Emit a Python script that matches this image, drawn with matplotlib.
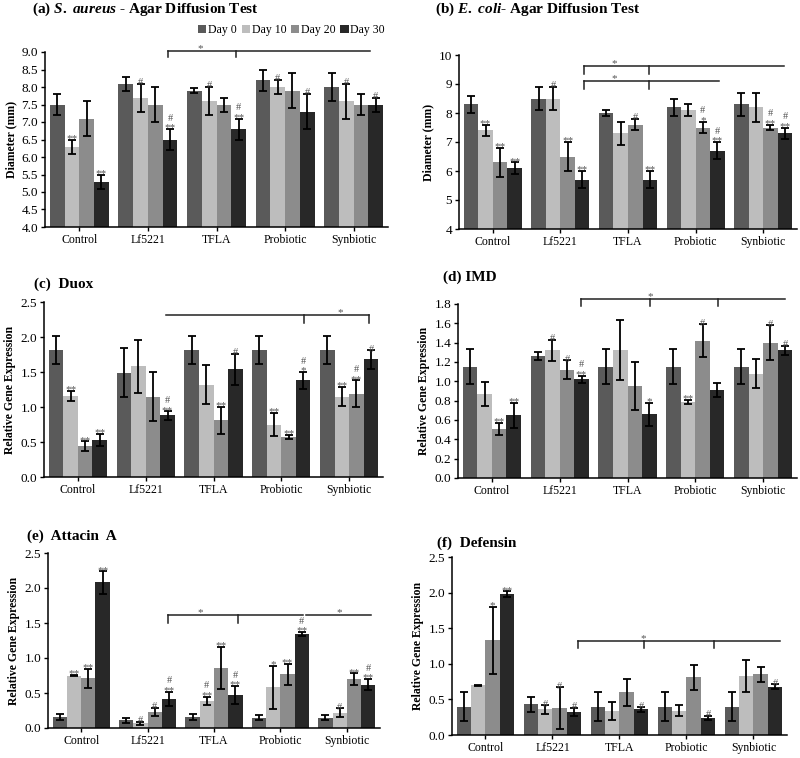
import matplotlib
matplotlib.use("Agg")
import matplotlib.pyplot as plt
from matplotlib.patches import Patch
import numpy as np

plt.rcParams['font.family'] = ['Liberation Serif', 'DejaVu Serif']
plt.rcParams['mathtext.fontset'] = 'custom'
plt.rcParams['mathtext.it'] = 'Liberation Serif:italic:bold'
plt.rcParams['mathtext.rm'] = 'Liberation Serif:bold'

groups = ["Control", "Lf5221", "TFLA", "Probiotic", "Synbiotic"]
days = ["Day 0", "Day 10", "Day 20", "Day 30"]
colors = ["#5a5a5a", "#bdbdbd", "#8c8c8c", "#282828"]

# (a) S. aureus diameter, rows = groups, cols = days
a_val = [[7.5, 6.3, 7.1, 5.3], [8.1, 7.7, 7.5, 6.5], [7.9, 7.6, 7.5, 6.8],
         [8.2, 8.0, 7.9, 7.3], [8.0, 7.6, 7.5, 7.5]]
a_err = [[0.3, 0.2, 0.5, 0.2], [0.2, 0.4, 0.5, 0.3], [0.08, 0.4, 0.2, 0.3],
         [0.3, 0.2, 0.5, 0.5], [0.4, 0.5, 0.3, 0.2]]
a_sig = [["", "**", "", "**"], ["", "#", "", "#\n**"], ["", "#", "", "#\n**"],
         ["", "#", "", "#"], ["", "#", "", "#"]]

# (b) E. coli diameter
b_val = [[8.3, 7.4, 6.3, 6.1], [8.5, 8.5, 6.5, 5.7], [8.0, 7.3, 7.6, 5.7],
         [8.2, 8.1, 7.5, 6.7], [8.3, 8.2, 7.5, 7.3]]
b_err = [[0.3, 0.2, 0.5, 0.2], [0.4, 0.4, 0.5, 0.3], [0.1, 0.4, 0.2, 0.3],
         [0.3, 0.2, 0.2, 0.3], [0.4, 0.5, 0.1, 0.2]]
b_sig = [["", "**", "**", "**"], ["", "#", "**", "**"], ["", "", "#", "**"],
         ["", "", "#\n*", "#\n**"], ["", "", "#\n**", "#\n**"]]

# (c) Duox
c_val = [[1.82, 1.16, 0.44, 0.53], [1.49, 1.58, 1.15, 0.88], [1.82, 1.32, 0.81, 1.54],
         [1.82, 0.75, 0.57, 1.38], [1.82, 1.15, 1.19, 1.68]]
c_err = [[0.2, 0.07, 0.07, 0.09], [0.35, 0.38, 0.35, 0.06], [0.2, 0.28, 0.19, 0.22],
         [0.2, 0.17, 0.03, 0.12], [0.2, 0.14, 0.19, 0.13]]
c_sig = [["", "**", "**", "**"], ["", "", "", "#\n**"], ["", "", "**", "#"],
         ["", "**", "**", "#\n*"], ["", "**", "#\n**", "#"]]

# (d) IMD
d_val = [[1.15, 0.87, 0.51, 0.65], [1.26, 1.32, 1.12, 1.02], [1.15, 1.32, 0.95, 0.66],
         [1.15, 0.79, 1.42, 0.91], [1.15, 1.08, 1.40, 1.32]]
d_err = [[0.18, 0.12, 0.06, 0.13], [0.04, 0.11, 0.10, 0.04], [0.18, 0.31, 0.25, 0.12],
         [0.18, 0.02, 0.17, 0.07], [0.18, 0.15, 0.18, 0.05]]
d_sig = [["", "", "**", "**"], ["", "#", "#", "#\n**"], ["", "", "", "*"],
         ["", "**", "#", ""], ["", "", "#", "#"]]

# (e) Attacin A
e_val = [[0.16, 0.75, 0.71, 2.08], [0.11, 0.07, 0.23, 0.42], [0.16, 0.39, 0.86, 0.47],
         [0.15, 0.58, 0.77, 1.34], [0.15, 0.22, 0.70, 0.62]]
e_err = [[0.04, 0.01, 0.14, 0.16], [0.04, 0.02, 0.06, 0.10], [0.04, 0.06, 0.30, 0.13],
         [0.04, 0.31, 0.15, 0.03], [0.04, 0.06, 0.08, 0.08]]
e_sig = [["", "**", "**", "**"], ["", "#", "#", "#\n**"], ["", "#\n**", "**", "#\n**"],
         ["", "*", "**", "#\n**"], ["", "#", "**", "#\n**"]]

# (f) Defensin
f_val = [[0.40, 0.70, 1.33, 1.98], [0.43, 0.36, 0.38, 0.32], [0.40, 0.34, 0.60, 0.36],
         [0.40, 0.34, 0.81, 0.24], [0.40, 0.83, 0.85, 0.68]]
f_err = [[0.21, 0.005, 0.47, 0.04], [0.11, 0.06, 0.29, 0.06], [0.21, 0.13, 0.19, 0.03],
         [0.21, 0.08, 0.18, 0.03], [0.21, 0.22, 0.10, 0.03]]
f_sig = [["", "", "*", "**"], ["", "#", "#", "#"], ["", "", "", "#"],
         ["", "", "", "#"], ["", "", "", "#"]]

W, H = 800, 758
fig = plt.figure(figsize=(8.0, 7.58), dpi=100)

def make_ax(l, r, t, b):
    return fig.add_axes([l / W, 1 - b / H, (r - l) / W, (b - t) / H])

panels = [
    dict(box=(45, 388, 52, 227), val=a_val, err=a_err, sig=a_sig, ylim=(4, 9),
         ticks=np.arange(4, 9.01, 0.5), fmt="{:.1f}", ylabel="Diameter (mm)",
         title=r"(a) $S.\ aureus$ - Agar Diffusion Test", tpos=(32, 9),
         brackets=[dict(y=9.03, x0=1.29, x1=4.24, ticks=[1.29, 2.28], d=0.17, stars=[1.77])]),
    dict(box=(459, 797, 55, 229), val=b_val, err=b_err, sig=b_sig, ylim=(4, 10),
         ticks=np.arange(4, 10.01, 1), fmt="{:.0f}", ylabel="Diameter (mm)",
         title=r"(b) $E.\ coli$- Agar Diffusion Test", tpos=(435, 9),
         brackets=[dict(y=9.63, x0=1.35, x1=4.31, ticks=[1.35, 2.31], d=0.28, stars=[1.79]),
                   dict(y=9.10, x0=1.35, x1=3.35, ticks=[1.35, 2.31], d=0.28, stars=[1.79])]),
    dict(box=(44, 383, 302, 477), val=c_val, err=c_err, sig=c_sig, ylim=(0, 2.5),
         ticks=np.arange(0, 2.51, 0.5), fmt="{:.1f}", ylabel="Relative Gene Expression",
         title="(c)  Duox", tpos=(34, 284),
         brackets=[dict(y=2.31, x0=1.30, x1=4.30, ticks=[3.33, 4.30], d=0.11, stars=[3.87])]),
    dict(box=(458, 797, 304, 478), val=d_val, err=d_err, sig=d_sig, ylim=(0, 1.8),
         ticks=np.arange(0, 1.81, 0.2), fmt="{:.1f}", ylabel="Relative Gene Expression",
         title="(d) IMD", tpos=(443, 277),
         brackets=[dict(y=1.855, x0=1.31, x1=4.33, ticks=[1.31, 2.33, 3.33], d=0.08, stars=[2.33])]),
    dict(box=(48, 380, 553, 728), val=e_val, err=e_err, sig=e_sig, ylim=(0, 2.5),
         ticks=np.arange(0, 2.51, 0.5), fmt="{:.1f}", ylabel="Relative Gene Expression",
         title="(e)  Attacin  A", tpos=(27, 536),
         brackets=[dict(y=1.62, x0=1.31, x1=3.34, ticks=[1.31, 2.36], d=0.12, stars=[1.80]),
                   dict(y=1.62, x0=3.39, x1=4.36, ticks=[], d=0.12, stars=[3.88])]),
    dict(box=(452, 787, 557, 735), val=f_val, err=f_err, sig=f_sig, ylim=(0, 2.5),
         ticks=np.arange(0, 2.51, 0.5), fmt="{:.1f}", ylabel="Relative Gene Expression",
         title="(f)  Defensin", tpos=(437, 543),
         brackets=[dict(y=1.325, x0=1.38, x1=4.40, ticks=[1.38, 2.36, 3.41], d=0.10, stars=[2.36])]),
]

bw = 0.215
x = np.arange(len(groups))
for p in panels:
    ax = make_ax(*p["box"])
    val = np.array(p["val"])
    err = np.array(p["err"])
    lo = p["ylim"][0]
    for k in range(4):
        xs = x + (k - 1.5) * bw
        ax.bar(xs, val[:, k] - lo, bw, bottom=lo, color=colors[k], edgecolor='none', zorder=2)
        ax.errorbar(xs, val[:, k], yerr=err[:, k], fmt='none', ecolor='black',
                    elinewidth=1.3, capsize=3, capthick=1.3, zorder=3)
        for i in range(len(groups)):
            s = p["sig"][i][k]
            if not s:
                continue
            lines = s.split("\n")[::-1]
            top = val[i, k] + err[i, k]
            for j, ln in enumerate(lines):
                fs = 8 if ln.startswith("*") else 7.5
                ax.annotate(ln, (xs[i], top), xytext=(0, -2.5 + j * 7), textcoords='offset points',
                            ha='center', va='bottom', fontsize=fs, color='#555555', zorder=4)
    ax.set_xlim(-0.5, 4.5)
    ax.set_ylim(*p["ylim"])
    ax.set_yticks(p["ticks"])
    ax.set_yticklabels([p["fmt"].format(t) for t in p["ticks"]])
    ax.set_xticks(x)
    ax.set_xticklabels(groups)
    ax.tick_params(axis='both', labelsize=8.5, length=3, width=1, direction='out', pad=2)
    ax.tick_params(axis='y', labelsize=9.5)
    for sp in ['top', 'right']:
        ax.spines[sp].set_visible(False)
    for sp in ['left', 'bottom']:
        ax.spines[sp].set_linewidth(1.1)
    ax.set_ylabel(p["ylabel"], fontsize=8.5, fontweight='bold', labelpad=3)
    for br in p["brackets"]:
        ax.plot([br["x0"], br["x1"]], [br["y"], br["y"]], color='#222222', lw=1.1, clip_on=False, zorder=5)
        for tx in br["ticks"]:
            ax.plot([tx, tx], [br["y"], br["y"] - br["d"]], color='#222222', lw=1.1, clip_on=False, zorder=5)
        for sx in br["stars"]:
            ax.annotate("*", (sx, br["y"]), xytext=(0, -1.5), textcoords='offset points',
                        ha='center', va='bottom', fontsize=8, color='#555555', annotation_clip=False)
    fig.text(p["tpos"][0] / W, 1 - p["tpos"][1] / H, p["title"], fontsize=11,
             fontweight='bold', ha='left', va='center')

handles = [Patch(facecolor=c, edgecolor='none') for c in colors]
fig.legend(handles, days, loc='center right', bbox_to_anchor=(385 / W, 1 - 30 / H), ncol=4,
           frameon=False, fontsize=8.5, handlelength=0.7, handleheight=0.7, handletextpad=0.15,
           columnspacing=0.4, borderaxespad=0, borderpad=0)

fig.savefig("out.png", dpi=100)
